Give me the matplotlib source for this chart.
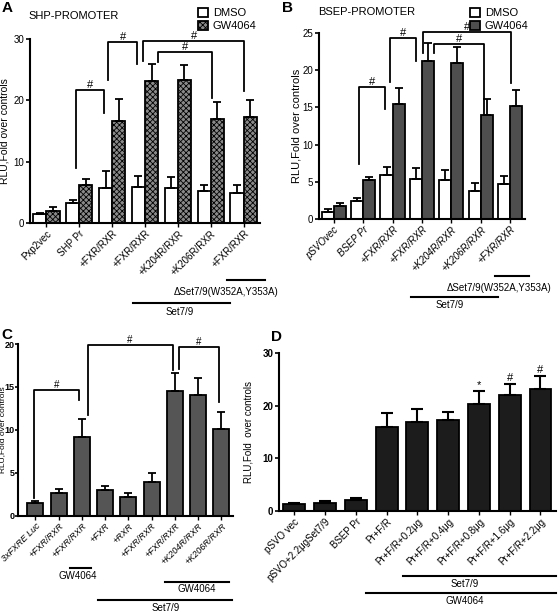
import numpy as np
import matplotlib
matplotlib.use('Agg')
import matplotlib.pyplot as plt
from matplotlib.patches import Patch

plt.rcParams['font.family'] = ['Liberation Sans', 'DejaVu Sans']
plt.rcParams['hatch.linewidth'] = 0.6

# ---- Panel A: SHP promoter ----
a_labels = ["Pxp2vec", "SHP Pr", "+FXR/RXR", "+FXR/RXR", "+K204R/RXR", "+K206R/RXR", "+FXR/RXR"]
a_dmso = [1.4, 3.3, 5.7, 5.9, 5.7, 5.2, 4.9]
a_dmso_err = [0.2, 0.5, 2.8, 1.8, 1.8, 1.0, 1.3]
a_gw = [2.0, 6.2, 16.6, 23.2, 23.3, 17.0, 17.3]
a_gw_err = [0.6, 1.0, 3.6, 2.7, 2.5, 2.7, 2.8]
# brackets: (x_left, y_left, x_right, y_right, y_top)
a_brackets = [(0.89, 9.0, 1.75, 17.9, 21.7), (1.88, 23.3, 2.77, 25.9, 29.5),
              (2.95, 26.4, 6.02, 21.5, 29.7), (3.40, 26.3, 5.05, 20.4, 27.9)]

# ---- Panel B: BSEP promoter ----
b_labels = ["pSVOvec", "BSEP Pr", "+FXR/RXR", "+FXR/RXR", "+K204R/RXR", "+K206R/RXR", "+FXR/RXR"]
b_dmso = [1.0, 2.4, 5.9, 5.4, 5.2, 3.8, 4.7]
b_dmso_err = [0.3, 0.4, 1.1, 1.4, 1.4, 1.0, 1.1]
b_gw = [1.7, 5.2, 15.4, 21.2, 20.9, 14.0, 15.2]
b_gw_err = [0.4, 0.4, 2.2, 2.4, 2.2, 2.1, 2.2]
b_brackets = [(0.85, 7.4, 1.76, 14.8, 17.7), (1.93, 18.4, 2.78, 21.3, 24.3),
              (3.02, 22.3, 6.03, 18.3, 25.1), (3.42, 22.3, 5.12, 14.0, 23.5)]

# ---- Panel C: 3xFXRE luciferase ----
c_labels = ["3xFXRE Luc", "+FXR/RXR", "+FXR/RXR", "+FXR", "+RXR", "+FXR/RXR",
            "+FXR/RXR", "+K204R/RXR", "+K206R/RXR"]
c_vals = [1.5, 2.7, 9.2, 3.0, 2.2, 4.0, 14.5, 14.1, 10.1]
c_err = [0.2, 0.4, 2.1, 0.5, 0.5, 1.0, 2.1, 1.9, 2.0]
c_brackets = [(-0.06, 2.1, 1.87, 13.5, 14.6), (2.25, 11.7, 5.90, 17.0, 19.9),
              (6.16, 17.1, 7.92, 13.3, 19.7)]

# ---- Panel D: Set7/9 dose ----
d_labels = ["pSVO vec", "pSVO+2.2\u03bcgSet7/9", "BSEP Pr", "Pr+F/R", "Pr+F/R+0.2\u03bcg",
            "Pr+F/R+0.4\u03bcg", "Pr+F/R+0.8\u03bcg", "Pr+F/R+1.6\u03bcg", "Pr+F/R+2.2\u03bcg"]
d_vals = [1.3, 1.5, 2.1, 16.0, 16.9, 17.3, 20.3, 22.0, 23.1]
d_err = [0.2, 0.4, 0.4, 2.6, 2.5, 1.5, 2.5, 2.1, 2.5]
d_marks = ["", "", "", "", "", "", "*", "#", "#"]

fig = plt.figure(figsize=(5.6, 6.12), dpi=100)


def style_axes(ax, ymax, yticks, xmin, n, bold_ticks=False, tsize=7):
    for s in ['top', 'right']:
        ax.spines[s].set_visible(False)
    for s in ['left', 'bottom']:
        ax.spines[s].set_linewidth(1.5)
    ax.set_ylim(0, ymax)
    ax.set_xlim(xmin, n - 0.5)
    ax.set_yticks(yticks)
    ax.tick_params(axis='y', length=3, width=1.2, labelsize=tsize, pad=1)
    ax.tick_params(axis='x', length=3, width=1.0, pad=1)
    if bold_ticks:
        for t in ax.get_yticklabels():
            t.set_fontweight('bold')


def set_xlabels(ax, labels, italic=False, size=7):
    ax.set_xticks(np.arange(len(labels)))
    ax.set_xticklabels(labels, rotation=45, ha='right', rotation_mode='anchor',
                       fontsize=size, style='italic' if italic else 'normal')


def draw_brackets(ax, brackets, fs=8):
    for xl, yl, xr, yr, yt in brackets:
        ax.plot([xl, xl, xr, xr], [yl, yt, yt, yr], color='black', lw=1.3, clip_on=False)
        ax.text((xl + xr) / 2, yt, '#', ha='center', va='bottom', fontsize=fs)


def underline(ax, x0, x1, y, text, tx, ty, size=7):
    tr = ax.get_xaxis_transform()
    ax.plot([x0, x1], [y, y], color='black', lw=1.5, transform=tr, clip_on=False)
    ax.text(tx, ty, text, transform=tr, ha='center', va='center', fontsize=size)


def paired_bars(ax, dmso, dmso_err, gw, gw_err, w, gw_color, hatch):
    x = np.arange(len(dmso))
    ekw = dict(elinewidth=1.3, capthick=1.3, ecolor='black')
    ax.bar(x - w / 2, dmso, w, color='white', edgecolor='black', lw=1.3,
           yerr=[np.zeros(len(dmso)), dmso_err], capsize=3, error_kw=ekw)
    ax.bar(x + w / 2, gw, w, color=gw_color, edgecolor='black', lw=1.3, hatch=hatch,
           yerr=[np.zeros(len(gw)), gw_err], capsize=3, error_kw=ekw)


# Panel A
axA = fig.add_axes([0.0536, 0.6356, 0.4107, 0.3007])
paired_bars(axA, a_dmso, a_dmso_err, a_gw, a_gw_err, 0.40, '#8a8a8a', 'xxxxxx')
style_axes(axA, 30, [0, 10, 20, 30], -0.5, len(a_labels))
set_xlabels(axA, a_labels)
axA.set_ylabel("RLU,Fold over controls", fontsize=7.5)
axA.yaxis.set_label_coords(-0.088, 0.5)
draw_brackets(axA, a_brackets)
underline(axA, 5.50, 6.66, -0.31, "\u0394Set7/9(W352A,Y353A)", 5.47, -0.375)
underline(axA, 2.64, 5.58, -0.435, "Set7/9", 4.07, -0.484)
axA.legend(handles=[Patch(facecolor='white', edgecolor='black', lw=1.3),
                    Patch(facecolor='#8a8a8a', edgecolor='black', hatch='xxxxxx', lw=1.3)],
           labels=["DMSO", "GW4064"], loc='upper left', bbox_to_anchor=(0.342, 0.998),
           bbox_transform=fig.transFigure, frameon=False, fontsize=8,
           handlelength=0.9, handleheight=0.9, handletextpad=0.4, labelspacing=0.2,
           borderpad=0.1)

# Panel B
axB = fig.add_axes([0.5696, 0.6422, 0.3679, 0.3039])
paired_bars(axB, b_dmso, b_dmso_err, b_gw, b_gw_err, 0.41, '#4e4e4e', None)
style_axes(axB, 25, [0, 5, 10, 15, 20, 25], -0.5, len(b_labels))
set_xlabels(axB, b_labels, italic=True)
axB.set_ylabel("RLU,Fold over controls", fontsize=8)
axB.yaxis.set_label_coords(-0.087, 0.5)
draw_brackets(axB, b_brackets)
underline(axB, 5.49, 6.64, -0.306, "\u0394Set7/9(W352A,Y353A)", 5.63, -0.371)
underline(axB, 2.64, 5.59, -0.419, "Set7/9", 3.93, -0.462)
axB.legend(handles=[Patch(facecolor='white', edgecolor='black', lw=1.3),
                    Patch(facecolor='#4e4e4e', edgecolor='black', lw=1.3)],
           labels=["DMSO", "GW4064"], loc='upper left', bbox_to_anchor=(0.828, 0.998),
           bbox_transform=fig.transFigure, frameon=False, fontsize=8,
           handlelength=0.9, handleheight=0.9, handletextpad=0.4, labelspacing=0.2,
           borderpad=0.1)

# Panel C
axC = fig.add_axes([0.0321, 0.1569, 0.3839, 0.281])
xc = np.arange(len(c_vals))
axC.bar(xc, c_vals, 0.69, color='#555555', edgecolor='black', lw=1.3,
        yerr=[np.zeros(len(c_vals)), c_err], capsize=3,
        error_kw=dict(elinewidth=1.3, capthick=1.3, ecolor='black'))
style_axes(axC, 20, [0, 5, 10, 15, 20], -0.75, len(c_vals), bold_ticks=True, tsize=6.5)
axC.tick_params(axis='y', length=2, pad=0.3)
set_xlabels(axC, c_labels, italic=True, size=6.5)
axC.set_ylabel("RLU,Fold over controls", fontsize=6)
axC.yaxis.set_label_coords(-0.055, 0.5)
draw_brackets(axC, c_brackets, fs=7)
underline(axC, 1.48, 2.38, -0.302, "GW4064", 1.82, -0.349)
underline(axC, 5.56, 8.35, -0.384, "GW4064", 6.93, -0.424)
underline(axC, 2.68, 8.48, -0.488, "Set7/9", 5.6, -0.535)

# Panel D
axD = fig.add_axes([0.498, 0.165, 0.4946, 0.258])
xd = np.arange(len(d_vals))
axD.bar(xd, d_vals, 0.71, color='#1c1c1c', edgecolor='black', lw=1.3,
        yerr=[np.zeros(len(d_vals)), d_err], capsize=4,
        error_kw=dict(elinewidth=1.5, capthick=1.5, ecolor='black'))
for xi, v, e, m in zip(xd, d_vals, d_err, d_marks):
    if m:
        axD.text(xi, v + e + 0.2, m, ha='center', va='bottom', fontsize=8)
style_axes(axD, 30, [0, 10, 20, 30], -0.5, len(d_vals), bold_ticks=True)
set_xlabels(axD, d_labels)
axD.set_ylabel("RLU,Fold  over controls", fontsize=7)
axD.yaxis.set_label_coords(-0.09, 0.5)
underline(axD, 3.53, 8.51, -0.411, "Set7/9", 5.53, -0.462)
underline(axD, 2.33, 8.51, -0.519, "GW4064", 5.53, -0.57)

# titles and panel letters
fig.text(28 / 560, 1 - 16 / 612, "SHP-PROMOTER", fontsize=8, va='center')
fig.text(318 / 560, 1 - 12 / 612, "BSEP-PROMOTER", fontsize=8, va='center')
fig.text(2 / 560, 1 - 8 / 612, "A", fontsize=11, fontweight='bold', va='center')
fig.text(282 / 560, 1 - 8 / 612, "B", fontsize=11, fontweight='bold', va='center')
fig.text(1 / 560, 1 - 335 / 612, "C", fontsize=11, fontweight='bold', va='center')
fig.text(271 / 560, 1 - 337 / 612, "D", fontsize=11, fontweight='bold', va='center')

fig.savefig("out.png", dpi=100)
plt.close(fig)
